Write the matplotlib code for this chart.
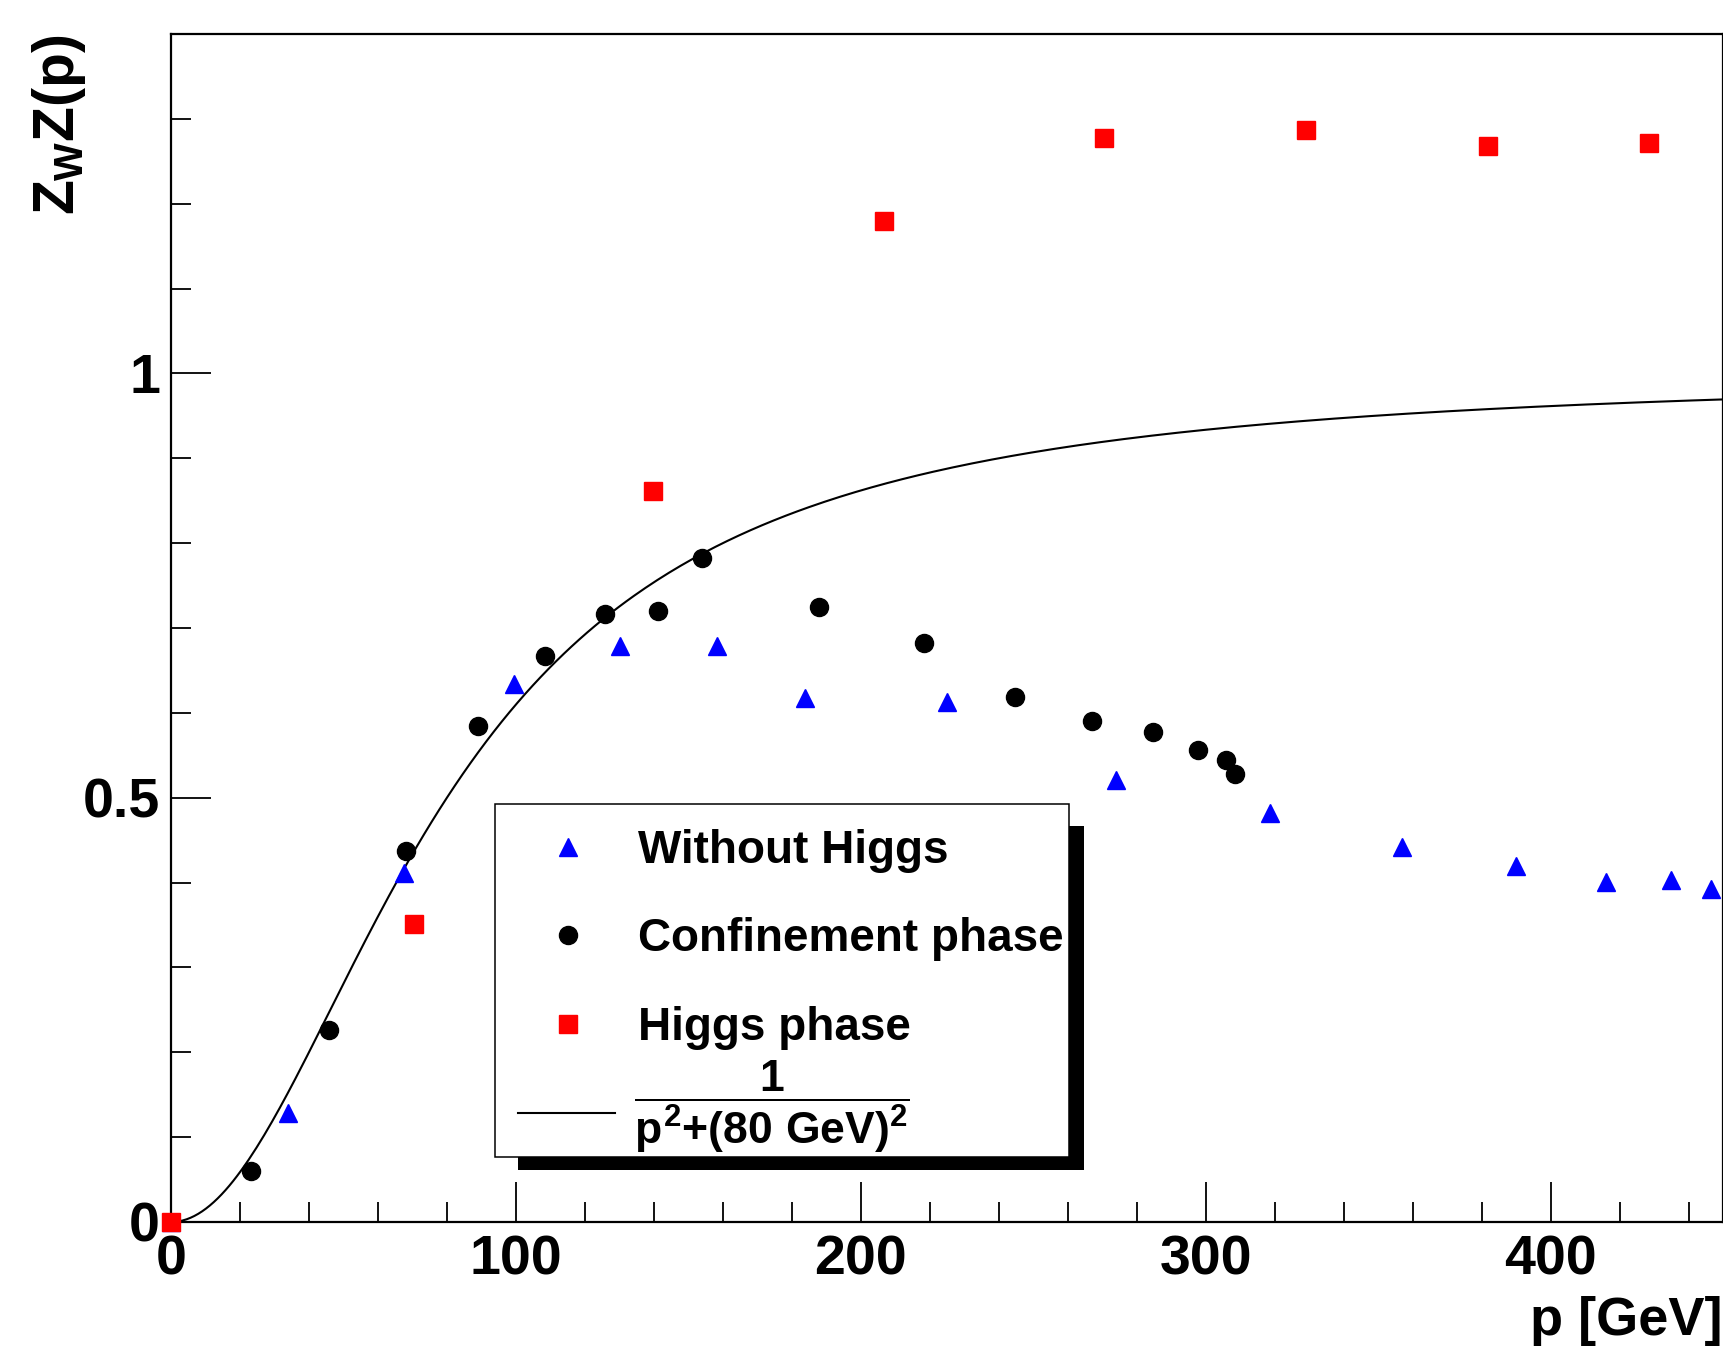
import numpy as np
import matplotlib
matplotlib.use("Agg")
import matplotlib.pyplot as plt
from matplotlib.patches import Rectangle
from matplotlib.ticker import MultipleLocator, FixedLocator, FuncFormatter

plt.rcParams['font.family'] = ['Liberation Sans', 'DejaVu Sans']
plt.rcParams['font.weight'] = 'bold'
plt.rcParams['axes.labelweight'] = 'bold'
plt.rcParams['mathtext.fontset'] = 'custom'
plt.rcParams['mathtext.rm'] = 'Liberation Sans:bold'
plt.rcParams['mathtext.it'] = 'Liberation Sans:bold'
plt.rcParams['mathtext.bf'] = 'Liberation Sans:bold'
plt.rcParams['mathtext.sf'] = 'Liberation Sans:bold'

# Without Higgs (blue triangles)
p_without = [0, 34, 67.5, 99.5, 130.1, 158.3, 183.8, 225, 274.1, 318.6, 357, 390, 416, 435, 446.5]
z_without = [0, 0.128, 0.411, 0.634, 0.679, 0.679, 0.617, 0.613, 0.521, 0.482, 0.442, 0.420, 0.401, 0.403, 0.393]

# Confinement phase (black circles)
p_conf = [23.2, 45.9, 68.2, 89.1, 108.4, 125.8, 141.2, 154.1, 187.9, 218.2, 244.6, 267.0, 284.8, 297.8, 305.8, 308.5]
z_conf = [0.060, 0.226, 0.437, 0.585, 0.667, 0.717, 0.720, 0.782, 0.725, 0.682, 0.619, 0.590, 0.578, 0.556, 0.545, 0.528]

# Higgs phase (red squares)
p_higgs = [0, 70.4, 139.8, 206.7, 270.4, 329, 382, 428.4]
z_higgs = [0, 0.351, 0.861, 1.180, 1.278, 1.287, 1.268, 1.272]

# reference curve p^2/(p^2+m^2), m = 80 GeV
mass = 80.0
p_curve = np.linspace(0, 450, 400)
z_curve = p_curve**2 / (p_curve**2 + mass**2)

fig = plt.figure(figsize=(17.23, 13.48), dpi=100)
ax = fig.add_axes([171/1723, 126/1348, 1552/1723, 1188/1348])

line, = ax.plot(p_curve, z_curve, color='black', lw=1.5, zorder=2)
tri, = ax.plot(p_without, z_without, ls='none', marker='^', ms=13, color='#0000ff', mec='#0000ff',
               clip_on=False, zorder=3)
circ, = ax.plot(p_conf, z_conf, ls='none', marker='o', ms=13, color='black',
                clip_on=False, zorder=3)
sq, = ax.plot(p_higgs, z_higgs, ls='none', marker='s', ms=12.5, color='#ff0000', mec='#ff0000',
              clip_on=False, zorder=3)

ax.set_xlim(0, 450)
ax.set_ylim(0, 1.4)

ax.xaxis.set_major_locator(MultipleLocator(100))
ax.xaxis.set_minor_locator(MultipleLocator(20))
ax.yaxis.set_major_locator(FixedLocator([0, 0.5, 1.0]))
ax.yaxis.set_minor_locator(MultipleLocator(0.1))
ax.yaxis.set_major_formatter(FuncFormatter(lambda v, _: f'{v:g}'))

ax.tick_params(which='both', direction='in', top=False, right=False, width=1.3, labelsize=40)
ax.tick_params(which='major', length=29)
ax.tick_params(which='minor', length=14.5)
ax.tick_params(axis='x', pad=9)
ax.tick_params(axis='y', pad=8)
for s in ax.spines.values():
    s.set_linewidth(1.6)

ax.set_xlabel('p [GeV]', fontsize=39, loc='right')
ax.xaxis.set_label_coords(1.0, -0.062)
ax.set_ylabel(r'$Z_{W}Z(p)$', fontsize=41, loc='top')
ax.yaxis.set_label_coords(-0.0535, 1.0)

# legend box with ROOT-style shadow
ax.add_patch(Rectangle((0.2236, 0.0438), 0.3647, 0.2895, transform=ax.transAxes,
                       facecolor='black', edgecolor='none', zorder=5, clip_on=False))
ax.add_patch(Rectangle((0.2088, 0.0547), 0.3698, 0.2972, transform=ax.transAxes,
                       facecolor='white', edgecolor='black', lw=1.1, zorder=5.1, clip_on=False))

leg1 = ax.legend([tri, circ, sq], ['Without Higgs', 'Confinement phase', 'Higgs phase'],
                 loc='upper left', bbox_to_anchor=(0.2236, 0.3309), borderaxespad=0,
                 borderpad=0, fontsize=33, numpoints=1, handlelength=2.18,
                 handletextpad=0.44, labelspacing=0.97, frameon=False)
leg1.set_zorder(6)
ax.add_artist(leg1)

leg2 = ax.legend([line], [r'$\dfrac{1}{p^{2}{+}(80\ GeV)^{2}}$'],
                 loc='center left', bbox_to_anchor=(0.2236, 0.0968), borderaxespad=0,
                 borderpad=0, fontsize=32, handlelength=2.18, handletextpad=0.42,
                 frameon=False)
leg2.set_zorder(6)
# drop the line sample to the denominator level, as in the original
h = leg2.legend_handles[0]
h.set_ydata(np.asarray(h.get_ydata()) - 11)

fig.savefig('out.png', dpi=100)
